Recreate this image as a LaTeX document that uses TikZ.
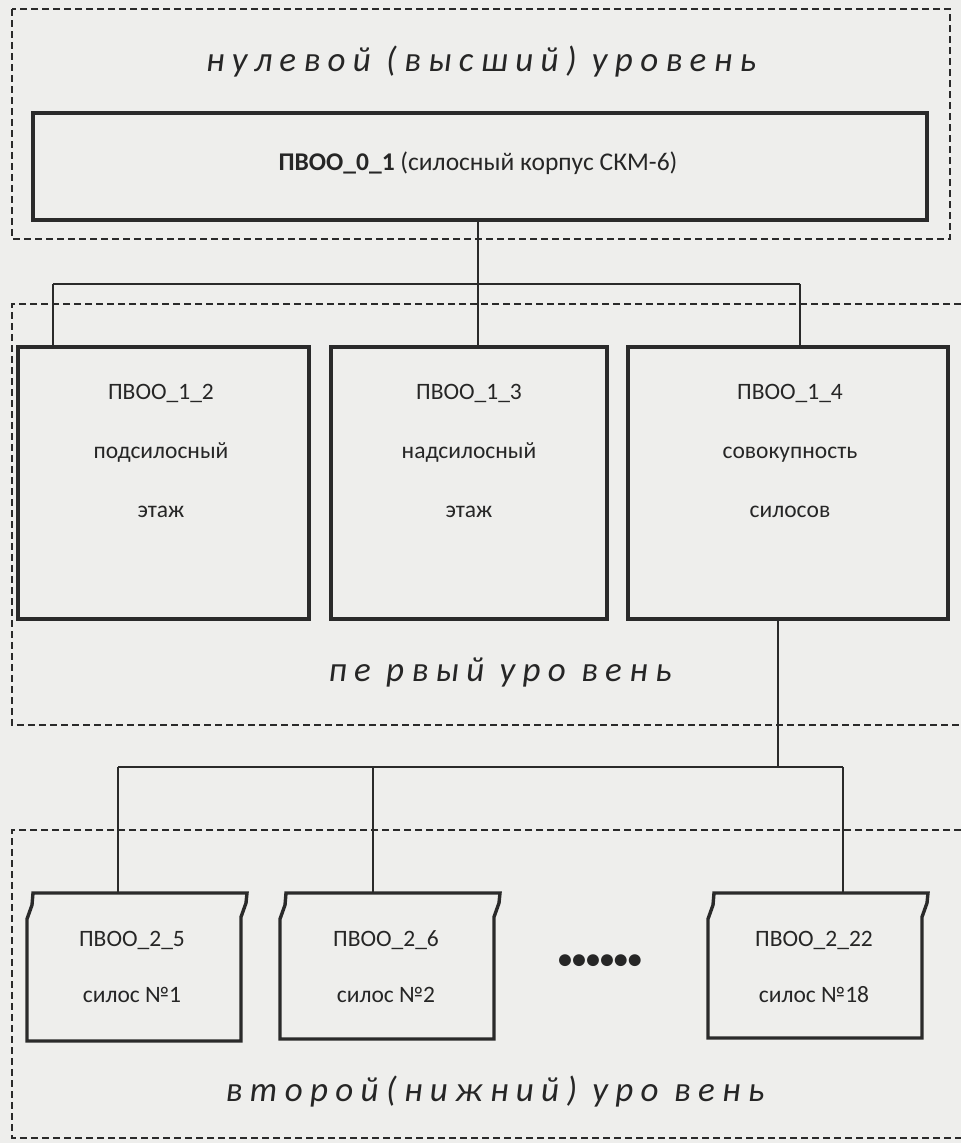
\documentclass[tikz,border=0pt]{standalone}
\usepackage{fontspec}
\setmainfont{Carlito}
\newfontfamily\lvlfont[LetterSpace=21]{Carlito}
\definecolor{bg}{RGB}{238,238,236}
\definecolor{ink}{RGB}{42,42,42}
\definecolor{txt}{RGB}{38,38,38}
\tikzset{
  frame/.style={draw=ink, line width=1.8pt, dash pattern=on 7pt off 4pt},
  conn/.style={draw=ink, line width=2.2pt},
  topbox/.style={draw=ink, line width=4.2pt, rectangle, inner sep=0pt, outer sep=0pt},
  l1box/.style={draw=ink, line width=3.6pt, rectangle, inner sep=0pt, outer sep=0pt, minimum height=272pt},
  l2box/.style={rectangle, draw=none, inner sep=0pt, outer sep=0pt, minimum width=214pt},
  l2line/.style={draw=ink, line width=3.4pt, line join=miter},
  boxtxt/.style={text=txt, font=\fontsize{23.5}{59}\selectfont, align=center, inner sep=0pt},
  l2txt/.style={text=txt, font=\fontsize{23.5}{56}\selectfont, align=center, inner sep=0pt},
  lvl/.style={text=txt, font=\lvlfont\itshape\fontsize{35}{38}\selectfont, inner sep=0pt}
}
\begin{document}
\begin{tikzpicture}[x=1pt, y=-1pt]
\useasboundingbox (0,0) rectangle (961,1143);
\fill[bg] (0,0) rectangle (961,1143);
% dashed level frames
\draw[frame] (12,9) rectangle (950,239);
\draw[frame] (961,304) -- (12,304) -- (12,725) -- (961,725);
\draw[frame] (961,830) -- (12,830) -- (12,1138) -- (961,1138);
% level labels
\node[lvl] (L0) at (481,62) {нулевой (высший) уровень};
\node[lvl] (L1) at (500,672) {пе рвый уро вень};
\node[lvl] (L2) at (495,1092) {второй(нижний) уро вень};
% top box
\node[topbox, minimum width=894pt, minimum height=107pt] (b01) at (480,166.5) {};
\node[boxtxt, font=\fontsize{25.5}{30}\selectfont] (t01) at (478,163) {\textbf{ПВОО\_0\_1} (силосный корпус СКМ-6)};
% level 1 boxes
\node[l1box, minimum width=291pt] (b12) at (163.5,483) {};
\node[l1box, minimum width=276pt] (b13) at (469,483) {};
\node[l1box, minimum width=320pt] (b14) at (788,483) {};
\node[boxtxt] (t12) at (161,451) {ПВОО\_1\_2\\подсилосный\\этаж};
\node[boxtxt] (t13) at (469,451) {ПВОО\_1\_3\\надсилосный\\этаж};
\node[boxtxt] (t14) at (790,451) {ПВОО\_1\_4\\совокупность\\силосов};
% level 2 boxes (outline drawn below)
\node[l2box, minimum height=148pt] (b25) at (134,967) {};
\node[l2box, minimum height=146pt] (b26) at (387,966) {};
\node[l2box, minimum height=145pt] (b222) at (815,965.5) {};
\foreach \b in {b25,b26,b222}{
  \draw[l2line] ([xshift=6pt]\b.north west) -- ([xshift=6pt]\b.north east)
    -- ([xshift=5pt,yshift=-10pt]\b.north east) -- ([yshift=-24pt]\b.north east)
    -- (\b.south east) -- (\b.south west) -- ([yshift=-26pt]\b.north west)
    -- ([xshift=5pt,yshift=-12pt]\b.north west) -- cycle;
}
\node[l2txt] (t25) at (132,967) {ПВОО\_2\_5\\силос №1};
\node[l2txt] (t26) at (386,967) {ПВОО\_2\_6\\силос №2};
\node[l2txt] (t222) at (814,967) {ПВОО\_2\_22\\силос №18};
\node[text=txt, font=\bfseries\fontsize{28}{28}\selectfont, inner sep=0pt] (dots) at (600,962) {••••••};
% connectors level 0 -> 1
\coordinate (j0) at (478,284);
\coordinate (c1L) at (53,284);
\coordinate (c1R) at (800,284);
\draw[conn] (b01.south -| j0) -- (j0);
\draw[conn] (c1L) -- (c1R);
\draw[conn] (c1L) -- (c1L |- b12.north);
\draw[conn] (j0) -- (j0 |- b13.north);
\draw[conn] (c1R) -- (c1R |- b14.north);
% connectors level 1 -> 2
\coordinate (j1) at (778,767);
\coordinate (c2L) at (118,767);
\coordinate (c2M) at (373,767);
\coordinate (c2R) at (843,767);
\draw[conn] (b14.south -| j1) -- (j1);
\draw[conn] (c2L) -- (c2R);
\draw[conn] (c2L) -- ([yshift=-1pt]c2L |- b25.north);
\draw[conn] (c2M) -- ([yshift=-1pt]c2M |- b26.north);
\draw[conn] (c2R) -- ([yshift=-1pt]c2R |- b222.north);
\end{tikzpicture}
\end{document}
